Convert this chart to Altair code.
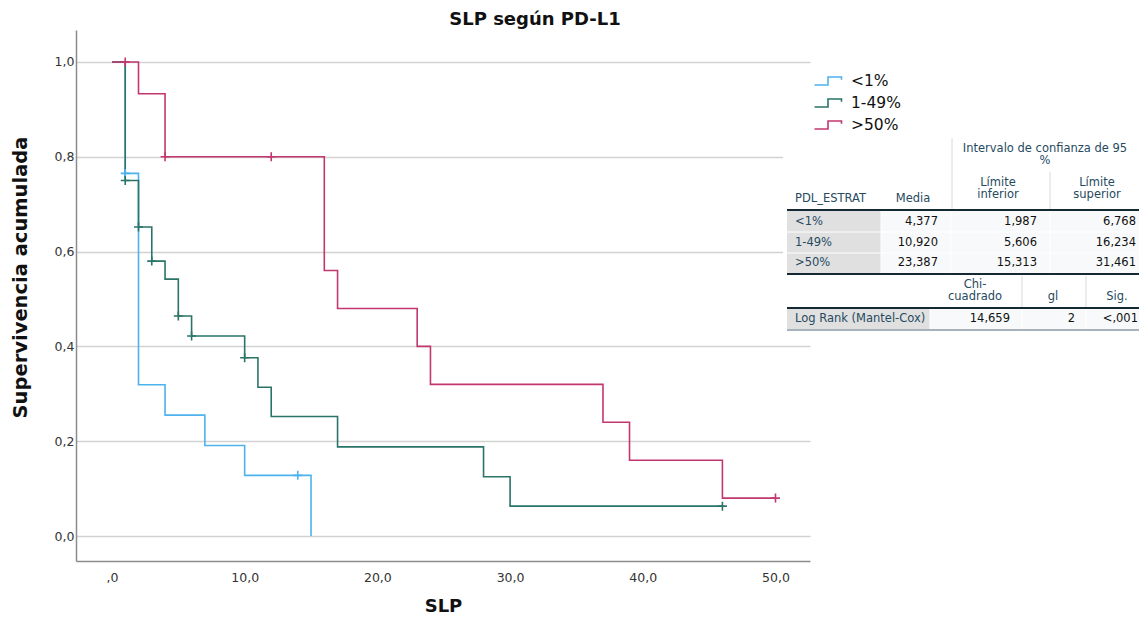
import altair as alt
import pandas as pd

# ---------------- data ----------------
groups = ["<1%", "1-49%", ">50%"]
colors = ["#4DB2EE", "#2A7468", "#C2376F"]

# step curves (time, survival) - value holds from time onward
t_low = [0, 1, 2, 4, 7, 10, 15]
s_low = [1.0, 0.765, 0.319, 0.255, 0.191, 0.128, 0.0]

t_mid = [0, 1, 2, 3, 4, 5, 6, 10, 11, 12, 17, 28, 30, 46]
s_mid = [1.0, 0.75, 0.652, 0.58, 0.542, 0.464, 0.422, 0.376, 0.314, 0.252, 0.188, 0.125, 0.063, 0.063]

t_high = [0, 2, 4, 16, 17, 23, 24, 37, 39, 46, 50]
s_high = [1.0, 0.933, 0.8, 0.56, 0.48, 0.40, 0.32, 0.24, 0.16, 0.08, 0.08]

# censored observations
ct_low = [1, 14]
cs_low = [0.765, 0.128]
ct_mid = [1, 2, 3, 5, 6, 10, 46]
cs_mid = [0.75, 0.652, 0.58, 0.464, 0.422, 0.376, 0.063]
ct_high = [1, 4, 12, 50]
cs_high = [1.0, 0.8, 0.8, 0.08]

x_ticks = [0, 10, 20, 30, 40, 50]
y_ticks = [0.0, 0.2, 0.4, 0.6, 0.8, 1.0]

# table contents
tbl_groups = ["<1%", "1-49%", ">50%"]
tbl_media = ["4,377", "10,920", "23,387"]
tbl_lower = ["1,987", "5,606", "15,313"]
tbl_upper = ["6,768", "16,234", "31,461"]
lr_label = "Log Rank (Mantel-Cox)"
lr_chi = "14,659"
lr_gl = "2"
lr_sig = "<,001"

# ---------------- frames ----------------
curves = pd.concat([
    pd.DataFrame({"t": t_low, "s": s_low, "g": groups[0]}),
    pd.DataFrame({"t": t_mid, "s": s_mid, "g": groups[1]}),
    pd.DataFrame({"t": t_high, "s": s_high, "g": groups[2]}),
])
cens = pd.concat([
    pd.DataFrame({"t": ct_low, "s": cs_low, "g": groups[0]}),
    pd.DataFrame({"t": ct_mid, "s": cs_mid, "g": groups[1]}),
    pd.DataFrame({"t": ct_high, "s": cs_high, "g": groups[2]}),
])

# ---------------- layout (page pixels) ----------------
OX, OY = 76, 30          # plot-area origin on the page
W, H = 734, 531
FONT = "DejaVu Sans"
HEAD = "#264A60"
DARK = "#152935"
THIN = "#DADADA"

row_y = [222, 243, 263]
col_left = 795
col_right = [938, 1037, 1136]

center_txt = [
    ("Intervalo de confianza de 95", 1045, 149), ("%", 1045, 161),
    ("Límite", 998, 183), ("inferior", 998, 195),
    ("Límite", 1097, 183), ("superior", 1097, 195),
    ("Media", 913, 199),
    ("Chi-", 975, 285), ("cuadrado", 975, 297),
    ("gl", 1053, 297), ("Sig.", 1117, 297),
]
left_txt = [("PDL_ESTRAT", col_left, 199)] + \
    [(g, col_left, y) for g, y in zip(tbl_groups, row_y)] + [(lr_label, col_left, 319)]
right_txt = []
for vals, xr in zip([tbl_media, tbl_lower, tbl_upper], col_right):
    for v, y in zip(vals, row_y):
        right_txt.append((v, xr, y))
right_txt += [(lr_chi, 1010, 319), (lr_gl, 1075, 319), (lr_sig, 1138, 319)]

rects = [
    (783, 1147, 136, 333, "#FFFFFF"),
    (787, 881, 211, 273, "#E0E0E0"),
    (881, 1147, 211, 273, "#F8F9FA"),
    (787, 930, 309, 329, "#E0E0E0"),
    (930, 1147, 309, 329, "#F8F9FA"),
]
rules = [
    (952, 952, 138, 209, THIN, 1), (1050, 1050, 172, 209, THIN, 1),
    (787, 1147, 210, 210, DARK, 2),
    (787, 1147, 232, 232, "#FFFFFF", 1), (787, 1147, 253, 253, "#FFFFFF", 1),
    (881, 881, 211, 273, "#FFFFFF", 1), (951, 951, 211, 273, "#FFFFFF", 1),
    (1050, 1050, 211, 273, "#FFFFFF", 1),
    (787, 1147, 274, 274, DARK, 2),
    (1022, 1022, 276, 307, THIN, 1), (1086, 1086, 276, 307, THIN, 1),
    (787, 1147, 308, 308, DARK, 2),
    (930, 930, 309, 329, "#FFFFFF", 1), (1022, 1022, 309, 329, "#FFFFFF", 1),
    (1086, 1086, 309, 329, "#FFFFFF", 1),
    (787, 1147, 330, 330, "#8A9AA6", 1.5),
]


def txt_df(items):
    return pd.DataFrame({"text": [a for a, _, _ in items],
                         "x": [b - OX for _, b, _ in items],
                         "y": [c - OY for _, _, c in items]})


rect_df = pd.DataFrame({"x0": [r[0] - OX for r in rects], "x1": [r[1] - OX for r in rects],
                        "y0": [r[2] - OY for r in rects], "y1": [r[3] - OY for r in rects],
                        "fill": [r[4] for r in rects]})
rule_df = pd.DataFrame({"x0": [r[0] - OX for r in rules], "x1": [r[1] - OX for r in rules],
                        "y0": [r[2] - OY for r in rules], "y1": [r[3] - OY for r in rules],
                        "stroke": [r[4] for r in rules], "sw": [r[5] for r in rules]})

# ---------------- chart ----------------
xscale = alt.Scale(domain=[-2.71, 52.6], nice=False, zero=False)
yscale = alt.Scale(domain=[-0.0527, 1.0675], nice=False, zero=False)
cscale = alt.Scale(domain=groups, range=colors)

step_path = "M-2,0.6H0V-0.6H2V-0.2"

lines = alt.Chart(curves).mark_line(interpolate="step-after", strokeWidth=1.6).encode(
    x=alt.X("t:Q", scale=xscale, title="SLP",
            axis=alt.Axis(values=x_ticks, grid=False,
                          labelExpr="datum.value == 0 ? ',0' : replace(format(datum.value, '.1f'), '.', ',')")),
    y=alt.Y("s:Q", scale=yscale, title="Supervivencia acumulada",
            axis=alt.Axis(values=y_ticks, grid=True, titleFontSize=19.5, titleX=-46, titleY=247,
                          labelExpr="replace(format(datum.value, '.1f'), '.', ',')")),
    color=alt.Color("g:N", scale=cscale, sort=groups,
                    legend=alt.Legend(orient="none", legendX=744, legendY=43, title=None,
                                      symbolType=step_path, symbolSize=182, symbolStrokeWidth=1.6,
                                      symbolFillColor="transparent", labelFont=FONT, labelFontSize=15.5,
                                      labelColor="#111111", labelOffset=15, rowPadding=5, padding=0)),
    order=alt.Order("t:Q"),
)

cross = "M-1,0L1,0M0,-1L0,1"
marks = alt.Chart(cens).mark_point(shape=cross, filled=False, size=81, strokeWidth=1.6, opacity=1).encode(
    x=alt.X("t:Q", scale=xscale),
    y=alt.Y("s:Q", scale=yscale),
    color=alt.Color("g:N", scale=cscale, legend=None),
)

tbl_rect = alt.Chart(rect_df).mark_rect().encode(
    x=alt.X("x0:Q", scale=None, axis=None), x2="x1:Q",
    y=alt.Y("y0:Q", scale=None, axis=None), y2="y1:Q",
    fill=alt.Fill("fill:N", scale=None),
)
tbl_rule = alt.Chart(rule_df).mark_rule().encode(
    x=alt.X("x0:Q", scale=None, axis=None), x2="x1:Q",
    y=alt.Y("y0:Q", scale=None, axis=None), y2="y1:Q",
    stroke=alt.Stroke("stroke:N", scale=None),
    strokeWidth=alt.StrokeWidth("sw:Q", scale=None),
)


def text_layer(items, align, color):
    return alt.Chart(txt_df(items)).mark_text(align=align, baseline="middle", font=FONT,
                                               fontSize=11.5, color=color).encode(
        x=alt.X("x:Q", scale=None, axis=None),
        y=alt.Y("y:Q", scale=None, axis=None),
        text="text:N",
    )


chart = alt.layer(
    lines, marks, tbl_rect, tbl_rule,
    text_layer(center_txt, "center", HEAD),
    text_layer(left_txt, "left", HEAD),
    text_layer(right_txt, "right", "#111111"),
).properties(
    width=W, height=H,
    autosize=alt.AutoSizeParams(type="none"),
    padding={"left": OX - 8, "top": OY - 8, "right": 1131 - (OX - 8) - W, "bottom": 608 - (OY - 8) - H},
    title=alt.TitleParams("SLP según PD-L1", font=FONT, fontSize=18, fontWeight="bold",
                          color="#111111", anchor="middle", frame="group", dx=92, offset=1),
).configure_view(stroke=None).configure_axis(
    gridColor="#D2D2D2", gridWidth=1.5,
    domainColor="#8C8C8C", domainWidth=1.5, ticks=False,
    labelFont=FONT, labelFontSize=12.5, labelColor="#333333",
    titleFont=FONT, titleFontSize=18, titleFontWeight="bold", titleColor="#111111",
).configure_axisX(labelPadding=10, titlePadding=14)

chart.save("out.html", embed_options={"renderer": "svg", "actions": False})
